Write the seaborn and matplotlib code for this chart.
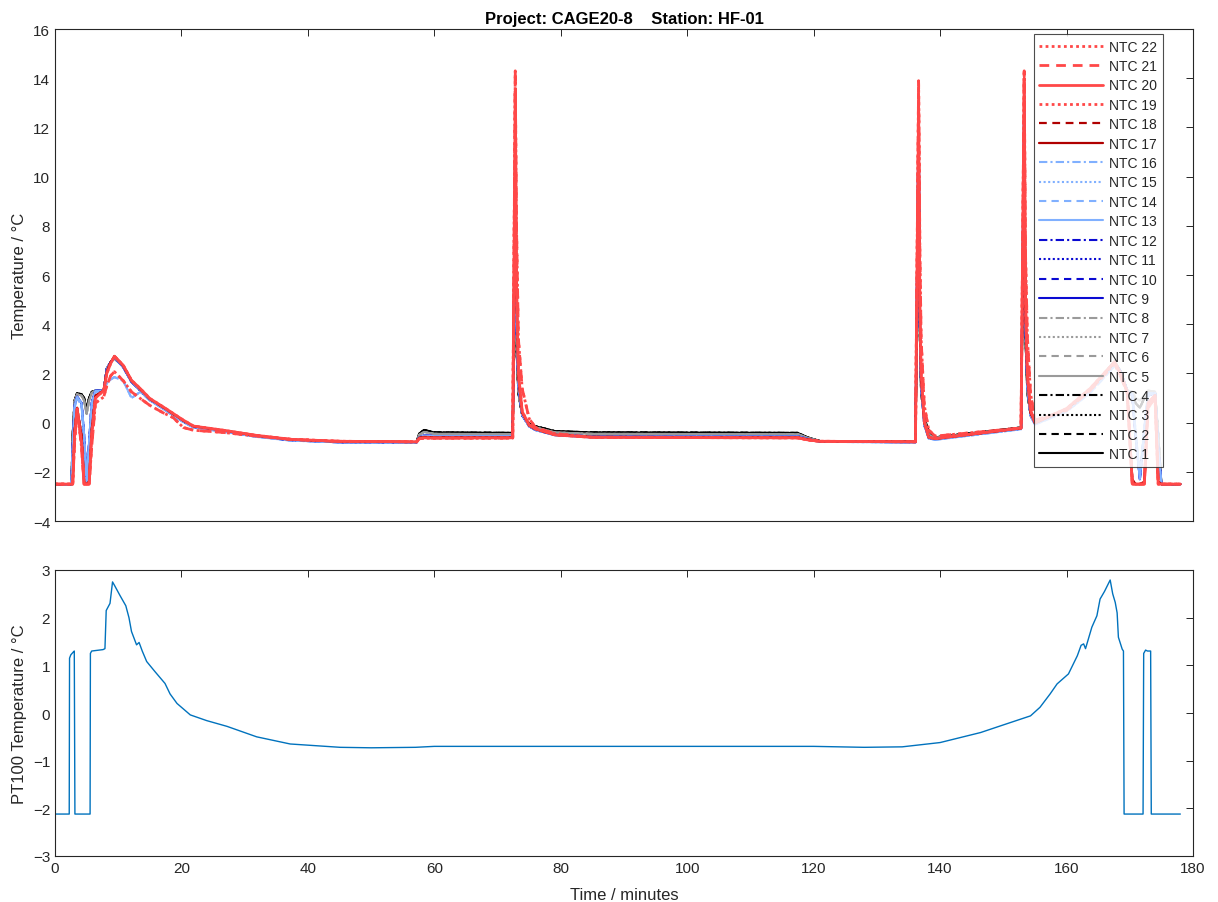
import numpy as np
import pandas as pd
import matplotlib
matplotlib.use("Agg")
import matplotlib.pyplot as plt
from matplotlib.lines import Line2D
import seaborn as sns

# ---------------- data ----------------
time_top = [0, 2.6, 2.8, 3.1, 3.5, 4.2, 4.6, 5.0, 5.4, 5.8, 6.4, 7.7, 8.2, 8.8, 9.4,
            10.8, 12.1, 13.5, 15.0, 17.1, 18.7, 20.3, 21.9, 26.6, 31.9, 37.3, 45.0,
            57.2, 57.6, 58.4, 60.0,
            72.4, 72.8, 73.0, 73.3, 73.9, 75.0, 76.0, 79.1, 85.0,
            117.5, 119.0, 121.0,
            136.1, 136.6, 136.8, 137.0, 137.5, 138.2, 139.2,
            152.8, 153.3, 153.5, 153.8, 154.3, 155.0,
            160.0, 163.7, 167.6, 168.5, 169.6, 170.4, 170.9, 171.6, 172.3, 172.9,
            174.0, 174.5, 175.0, 178.0]

temp_black = [-2.5, -2.5, -0.5, 0.9, 1.2, 1.15, 1.0, 0.55, 1.0, 1.25, 1.3, 1.3, 2.2, 2.45, 2.65,
              2.3, 1.7, 1.33, 0.95, 0.6, 0.33, 0.07, -0.16, -0.33, -0.54, -0.7, -0.78,
              -0.79, -0.45, -0.3, -0.4,
              -0.42, 7.0, 3.0, 1.2, 0.3, -0.05, -0.15, -0.35, -0.4,
              -0.42, -0.6, -0.75,
              -0.78, 9.0, 3.5, 1.2, 0.2, -0.4, -0.6,
              -0.2, 10.0, 3.5, 1.2, 0.35, 0.0,
              0.55, 1.35, 2.45, 2.1, 1.3, 1.2, 0.8, 0.6, 1.0, 1.25,
              1.2, -0.5, -2.5, -2.5]

temp_grey = [-2.5, -2.5, -0.7, 0.85, 1.15, 1.1, 0.9, 0.35, 0.9, 1.2, 1.3, 1.3, 2.2, 2.45, 2.6,
             2.28, 1.68, 1.32, 0.94, 0.6, 0.32, 0.06, -0.17, -0.34, -0.55, -0.71, -0.79,
             -0.8, -0.5, -0.38, -0.46,
             -0.47, 8.0, 3.3, 1.3, 0.3, -0.08, -0.2, -0.4, -0.46,
             -0.47, -0.62, -0.76,
             -0.79, 10.0, 3.8, 1.3, 0.1, -0.5, -0.62,
             -0.22, 11.0, 3.8, 1.3, 0.3, -0.02,
             0.52, 1.32, 2.5, 2.1, 1.3, 1.25, 1.0, 0.9, 1.1, 1.3,
             1.25, -0.5, -2.5, -2.5]

temp_blue = [-2.5, -2.5, -1.0, 0.7, 1.05, 0.8, -0.5, -2.3, -0.8, 0.8, 1.3, 1.3, 2.2, 2.45, 2.65,
             2.25, 1.65, 1.3, 0.92, 0.58, 0.3, 0.04, -0.18, -0.35, -0.56, -0.72, -0.8,
             -0.8, -0.6, -0.52, -0.55,
             -0.55, 10.0, 4.0, 1.5, 0.3, -0.15, -0.3, -0.5, -0.56,
             -0.56, -0.66, -0.77,
             -0.8, 12.8, 4.0, 1.5, -0.1, -0.62, -0.68,
             -0.25, 13.0, 4.0, 1.5, 0.3, -0.05,
             0.5, 1.3, 2.4, 2.1, 1.3, 1.1, -0.5, -2.3, -0.3, 1.1,
             1.2, -1.0, -2.5, -2.5]

temp_lightblue = [-2.5, -2.5, -1.2, 0.6, 1.0, 0.7, -0.6, -2.4, -0.9, 0.7, 1.25, 1.3, 1.6, 1.75, 1.85,
                  1.7, 1.0, 1.25, 0.9, 0.56, 0.28, 0.02, -0.2, -0.37, -0.58, -0.73, -0.8,
                  -0.81, -0.65, -0.58, -0.6,
                  -0.6, 11.0, 4.5, 1.6, 0.35, -0.15, -0.3, -0.52, -0.6,
                  -0.6, -0.68, -0.78,
                  -0.81, 13.0, 4.5, 1.6, -0.1, -0.65, -0.7,
                  -0.27, 13.5, 4.5, 1.6, 0.3, -0.08,
                  0.45, 1.2, 2.3, 2.0, 1.3, 1.2, -0.3, -2.2, -0.2, 1.2,
                  1.2, -1.2, -2.5, -2.5]

temp_darkred = [-2.5, -2.5, -2.5, -0.3, 0.6, -0.5, -2.4, -2.5, -2.4, -0.3, 1.1, 1.3, 2.1, 2.45, 2.7,
                2.3, 1.7, 1.35, 0.96, 0.62, 0.35, 0.08, -0.15, -0.32, -0.53, -0.69, -0.77,
                -0.79, -0.62, -0.58, -0.6,
                -0.6, 12.0, 5.0, 1.8, 0.4, -0.12, -0.27, -0.5, -0.58,
                -0.6, -0.68, -0.76,
                -0.78, 11.5, 4.5, 1.8, 0.0, -0.6, -0.66,
                -0.23, 12.0, 4.5, 1.8, 0.4, -0.02,
                0.55, 1.35, 2.45, 2.0, 1.2, -2.3, -2.5, -2.5, -2.4, 0.8,
                1.1, -2.4, -2.5, -2.5]

temp_red = [-2.5, -2.5, -2.5, -0.5, 0.5, -0.8, -2.5, -2.5, -2.5, -0.5, 1.0, 1.3, 2.0, 2.4, 2.7,
            2.33, 1.72, 1.38, 0.98, 0.64, 0.37, 0.1, -0.14, -0.31, -0.52, -0.68, -0.76,
            -0.78, -0.65, -0.62, -0.63,
            -0.62, 13.5, 5.5, 2.0, 0.45, -0.1, -0.25, -0.5, -0.6,
            -0.62, -0.7, -0.76,
            -0.78, 13.0, 5.0, 2.05, 0.03, -0.6, -0.65,
            -0.22, 14.0, 5.0, 2.0, 0.5, 0.0,
            0.57, 1.38, 2.47, 2.0, 1.25, -2.5, -2.5, -2.5, -2.5, 0.8,
            1.1, -2.5, -2.5, -2.5]

temp_red_low = [-2.5, -2.5, -2.5, -0.8, 0.57, -1.0, -2.5, -2.5, -2.5, -1.0, 0.8, 1.04, 1.5, 1.9, 2.07,
                1.7, 1.25, 0.98, 0.7, 0.4, 0.2, -0.2, -0.31, -0.4, -0.55, -0.68, -0.76,
                -0.78, -0.66, -0.63, -0.63,
                -0.63, 14.3, 8.0, 3.4, 1.38, 0.16, -0.2, -0.45, -0.6,
                -0.62, -0.7, -0.76,
                -0.78, 13.9, 7.0, 3.4, 0.7, -0.3, -0.55,
                -0.22, 14.3, 7.0, 3.5, 1.2, 0.1,
                0.5, 1.3, 2.4, 1.9, 1.2, -2.5, -2.5, -2.5, -2.5, 0.6,
                1.0, -2.5, -2.5, -2.5]

sensor_names = [f"NTC {i}" for i in range(1, 23)]
sensor_profile = ["black"] * 4 + ["grey"] * 4 + ["blue"] * 4 + \
                 ["blue", "lightblue", "lightblue", "lightblue"] + \
                 ["darkred", "darkred", "red", "red", "red_low", "red_low"]

time_pt100 = [0, 2.25, 2.3, 2.5, 2.9, 3.05, 3.15, 5.55, 5.6, 5.8, 7.6, 7.9, 8.1, 8.7, 9.1, 9.4,
              10.3, 11.2, 11.7, 12.1, 12.9, 13.3, 13.8, 14.5, 15.8, 17.4, 18.2, 19.3, 21.4,
              24.0, 27.2, 31.9, 37.2, 45.1, 50, 57, 60, 80, 100, 120, 128, 134, 140, 146.4,
              150, 154.3, 155.8, 157.4, 158.5, 160.3, 161.7, 162.3, 162.7, 163.0, 164.0,
              164.8, 165.3, 166.0, 166.9, 167.3, 167.7, 168.0, 168.2, 168.8, 169.0, 169.1,
              172.1, 172.2, 172.5, 172.8, 173.3, 173.4, 178]
temp_pt100 = [-2.12, -2.12, 1.15, 1.22, 1.28, 1.3, -2.12, -2.12, 1.25, 1.3, 1.33, 1.35, 2.15,
              2.3, 2.75, 2.68, 2.46, 2.25, 2.0, 1.71, 1.43, 1.48, 1.3, 1.08, 0.87, 0.62, 0.4,
              0.2, -0.04, -0.16, -0.28, -0.5, -0.65, -0.72, -0.73, -0.72, -0.7, -0.7, -0.7,
              -0.7, -0.72, -0.71, -0.62, -0.41, -0.25, -0.06, 0.12, 0.4, 0.61, 0.82, 1.2,
              1.42, 1.45, 1.35, 1.8, 2.04, 2.39, 2.55, 2.79, 2.5, 2.32, 2.1, 1.59, 1.34, 1.3,
              -2.12, -2.12, 1.25, 1.32, 1.3, 1.3, -2.12, -2.12]

# ---------------- styling ----------------
profiles = {"black": temp_black, "grey": temp_grey, "blue": temp_blue,
            "lightblue": temp_lightblue, "darkred": temp_darkred,
            "red": temp_red, "red_low": temp_red_low}

c_black, c_grey, c_blue, c_lblue, c_dred, c_red = "#000000", "#9a9a9a", "#0a0ad2", "#80b0ff", "#b00000", "#ff4848"
colors = [c_black] * 4 + [c_grey] * 4 + [c_blue] * 4 + [c_lblue] * 4 + [c_dred] * 2 + [c_red] * 4
solid, dashed, dotted, dashdot = "", (3.5, 2.5), (1, 1.2), (4, 1.5, 1, 1.5)
styles = [solid, dashed, dotted, dashdot] * 4 + [solid, dashed, dotted, solid, dashed, dotted]
widths = [1.5] * 16 + [1.6] * 2 + [2.0] * 4

rows = []
for name, prof in zip(sensor_names, sensor_profile):
    for t, v in zip(time_top, profiles[prof]):
        rows.append((name, t, v))
df_top = pd.DataFrame(rows, columns=["sensor", "time", "temp"])
df_pt = pd.DataFrame({"time": time_pt100, "temp": temp_pt100})

sns.set_theme(style="white")
plt.rcParams["font.family"] = ["Liberation Sans", "DejaVu Sans"]
axcol = "#262626"

fig = plt.figure(figsize=(12.18, 9.03), dpi=100)
ax1 = fig.add_axes([55 / 1218, 1 - 522 / 903, 1138 / 1218, 492 / 903])
ax2 = fig.add_axes([55 / 1218, 1 - 857 / 903, 1138 / 1218, 286 / 903])

sns.lineplot(data=df_top, x="time", y="temp", hue="sensor", style="sensor", size="sensor",
             hue_order=sensor_names, style_order=sensor_names, size_order=sensor_names,
             palette=dict(zip(sensor_names, colors)),
             dashes=dict(zip(sensor_names, styles)),
             sizes=dict(zip(sensor_names, widths)),
             estimator=None, sort=False, legend=False, ax=ax1)

sns.lineplot(data=df_pt, x="time", y="temp", color="#0072bd", linewidth=1.0,
             estimator=None, sort=False, ax=ax2)

for ax in (ax1, ax2):
    ax.set_xlim(0, 180)
    ax.set_xticks(np.arange(0, 181, 20))
    ax.tick_params(direction="in", top=True, right=True, length=5, width=0.7,
                   colors=axcol, labelsize=11, labelcolor=axcol)
    for s in ax.spines.values():
        s.set_color(axcol)
        s.set_linewidth(0.8)

ax1.set_ylim(-4, 16)
ax1.set_yticks(np.arange(-4, 17, 2))
ax1.tick_params(labelbottom=False)
ax1.set_xlabel("")
ax1.set_ylabel("Temperature / °C", fontsize=12, color=axcol)
ax1.set_title("Project: CAGE20-8    Station: HF-01", fontsize=12, fontweight="bold",
              color="#000000", pad=4)

ax2.set_ylim(-3, 3)
ax2.set_yticks(np.arange(-3, 4, 1))
ax2.set_ylabel("PT100 Temperature / °C", fontsize=12, color=axcol)
ax2.set_xlabel("Time / minutes", fontsize=12, color=axcol, labelpad=9)

handles = []
for c, w, d in zip(colors, widths, styles):
    ln = Line2D([0], [0], color=c, lw=w)
    if d:
        ln.set_dashes(d)
    handles.append(ln)
leg = ax1.legend(handles[::-1], sensor_names[::-1], loc="upper right",
                 bbox_to_anchor=((1163 - 55) / 1138, (522 - 35) / 492),
                 fontsize=10, labelspacing=0.39, handlelength=4.6, handletextpad=0.45,
                 borderpad=0.4, borderaxespad=0, fancybox=False, framealpha=0.82,
                 edgecolor=axcol)
leg.get_frame().set_linewidth(0.8)

fig.savefig("out.png", dpi=100)
